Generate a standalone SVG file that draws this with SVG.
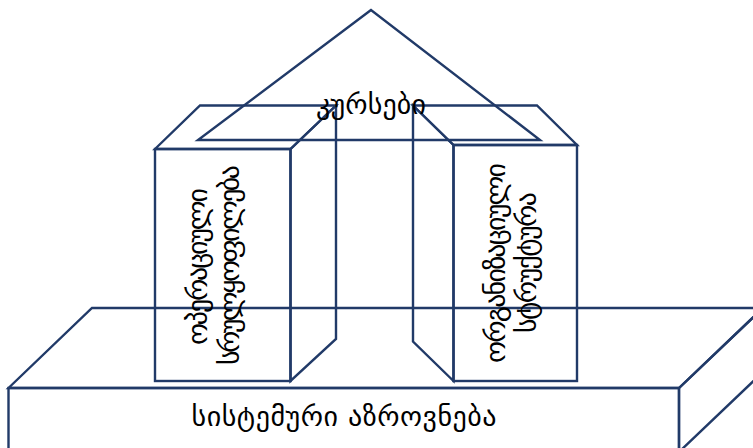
<svg xmlns="http://www.w3.org/2000/svg" width="753" height="448" viewBox="0 0 753 448">
<style>
.sh{fill:none;stroke:#213a68;stroke-width:2.4;stroke-linejoin:miter}
.t{font-family:"DejaVu Sans","Noto Sans",sans-serif;font-size:28px;fill:#000;text-anchor:middle}
</style>
<rect x="0" y="0" width="753" height="448" fill="#fff"/>
<g id="base">
<rect class="sh" x="8.5" y="388" width="670.5" height="64"/>
<polygon class="sh" points="8.5,388 92,308 763,308 679,388"/>
<polygon class="sh" points="679,388 763,308 763,372 679,452"/>
<text class="t" x="344" y="426" textLength="305" lengthAdjust="spacing">სისტემური აზროვნება</text>
</g>
<g id="pillar-left">
<rect class="sh" x="155" y="149" width="135.5" height="232"/>
<polygon class="sh" points="155,149 200,105.5 336,105.5 290.5,149"/>
<polygon class="sh" points="290.5,149 336,105.5 336,339 290.5,381"/>
<text class="t" transform="translate(207,266.5) rotate(-90)" textLength="157" lengthAdjust="spacing">ოპერაციული</text>
<text class="t" transform="translate(239,265) rotate(-90)" textLength="200" lengthAdjust="spacing">სრულყოფილება</text>
</g>
<g id="pillar-right">
<rect class="sh" x="453.5" y="145" width="123.5" height="236"/>
<polygon class="sh" points="453.5,145 413,105.5 537,105.5 577,145"/>
<polygon class="sh" points="453.5,145 413,105.5 413,341.5 453.5,381"/>
<text class="t" transform="translate(505,263) rotate(-90)" textLength="200" lengthAdjust="spacing">ორგანიზაციული</text>
<text class="t" transform="translate(536,262.5) rotate(-90)" textLength="141" lengthAdjust="spacing">სტრუქტურა</text>
</g>
<g id="roof">
<polygon class="sh" points="371,10 198,140 540,140"/>
<text class="t" x="371" y="114" textLength="110" lengthAdjust="spacing">კურსები</text>
</g>
</svg>
